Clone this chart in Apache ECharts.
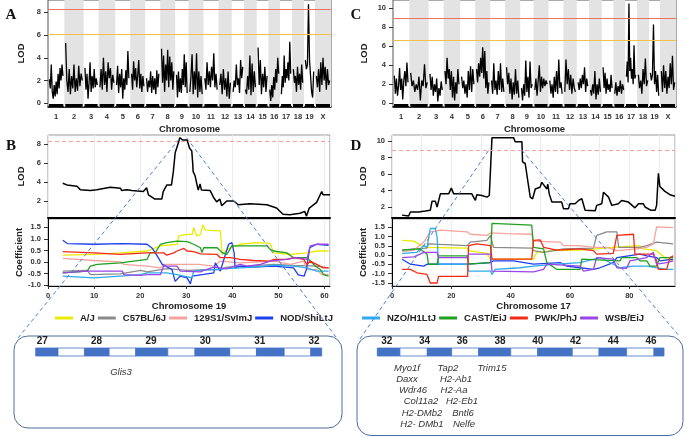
<!DOCTYPE html>
<html><head><meta charset="utf-8">
<script src="https://cdn.jsdelivr.net/npm/echarts@6/dist/echarts.min.js"></script>
<style>html,body{margin:0;padding:0;background:#fff}#c{width:685px;height:437px}</style>
</head><body><div id="c"></div>
<script>
// ---------------- DATA ----------------
const chromNames = ['1','2','3','4','5','6','7','8','9','10','11','12','13','14','15','16','17','18','19','X'];
const chromWidths = [49,58,45,50,45,45,45,45,40,45,45,40,37,38,35,35,36,36,33,48];

const lodA = [
 [2.1,1.3,3.4,1.0,0.4,1.6,0.6,1.9,0.8,2.6,1.3,3.1,2.0,3.4,2.4],
 [5.3,2.0,1.0,3.0,0.8,2.4,1.3,3.4,1.0,2.2,1.1,3.3,1.5,2.6,2.0],
 [3.1,1.2,2.6,0.4,1.8,3.6,1.0,2.4,1.3,3.0,1.4,2.2,1.6],
 [1.4,3.0,1.2,4.0,1.6,2.8,1.0,3.6,2.2,3.1,1.2,2.5,1.8],
 [1.6,3.3,0.9,2.6,1.4,3.0,0.4,2.2,1.2,2.9,1.6,4.6,2.2],
 [2.6,1.2,3.7,2.0,3.1,1.4,2.5,3.8,1.3,2.6,1.0,2.4,1.5],
 [2.2,1.0,2.0,1.4,2.8,0.9,2.4,1.2,2.2,0.8,2.9,1.4,2.6],
 [4.8,1.8,4.2,1.0,3.4,2.0,4.7,1.4,4.1,2.0,3.6,1.2,2.8],
 [2.5,0.5,2.8,1.0,2.2,0.9,3.0,1.6,4.3,1.4,3.6,0.9],
 [1.0,2.3,4.3,0.8,2.8,1.2,4.4,0.5,2.8,1.0,2.4,0.8],
 [2.2,1.2,3.6,1.6,2.8,1.4,3.2,2.0,4.4,1.4,2.6,1.2],
 [1.6,2.6,0.8,3.0,1.2,2.2,0.6,2.8,0.4,1.8],
 [1.0,2.0,1.4,3.4,1.6,2.2,0.9,3.8,2.2,3.2],
 [1.2,0.8,2.4,1.2,4.2,0.7,3.5,1.0,2.8,1.4],
 [4.9,1.6,3.8,0.8,2.6,1.4,3.2,1.0,2.4],
 [1.2,0.2,1.6,0.5,2.3,1.2,3.0,1.8,4.0,2.6],
 [0.8,2.4,1.4,4.2,1.8,3.0,2.2,3.6,2.0,5.4,2.6],
 [3.0,1.8,2.4,1.0,3.2,1.6,2.6,1.2,3.4,1.8],
 [3.8,3.0,3.4,8.7,3.8,2.4,1.0,0.5,2.8],
 [2.4,1.4,3.0,1.0,3.6,1.6,4.0,2.0,3.2,1.2,3.0,1.6,2.0]
];
const lodC = [
 [2.9,1.0,2.6,0.8,1.8,3.7,1.4,2.6,0.4,2.4,3.4,1.8,4.3,2.2],
 [3.2,1.8,2.4,1.2,2.0,1.4,2.8,0.3,2.4,1.8,4.1,1.6,2.2],
 [3.1,1.4,2.8,0.8,2.0,1.2,2.6,0.2,1.6,0.8,2.3,1.4],
 [3.4,2.0,4.8,2.6,3.6,1.4,3.4,0.6,2.8,0.3,2.2,1.0,3.6,2.0],
 [2.8,1.6,2.4,1.0,2.0,0.6,3.4,1.4,3.9,1.2,3.6,2.0],
 [3.6,2.2,4.2,2.8,4.8,3.2,5.9,2.6,5.5,1.6,3.4,1.0,2.2],
 [2.4,1.0,4.2,1.4,2.4,0.9,3.4,1.4,4.2,1.2,2.6,1.2],
 [3.8,2.0,3.2,1.0,2.6,0.4,2.2,0.9,3.6,1.0,2.4,0.6],
 [1.6,0.3,2.0,0.8,4.5,1.2,2.8,0.6,4.4,1.6,2.0],
 [1.4,2.6,0.8,2.4,4.0,1.2,2.8,1.6,2.6,1.8,2.4,2.0],
 [2.4,1.0,2.0,0.6,2.8,1.2,3.4,1.0,4.6,1.6,2.2,1.0],
 [1.2,4.6,2.0,3.6,1.4,3.0,1.0,2.6,1.6,1.2],
 [2.2,1.4,2.6,1.6,3.0,2.0,3.8,1.2,2.6,1.8],
 [1.4,0.8,2.0,1.0,3.4,0.4,2.0,0.9,2.6,1.2],
 [3.8,1.6,3.2,1.0,2.6,1.4,2.0,1.2,3.0,1.6],
 [1.0,2.2,0.8,1.8,1.2,2.4,1.0,2.0,1.4],
 [2.8,4.4,2.2,10.5,3.4,4.8,2.6,3.6,2.0,6.1,2.6,3.0],
 [3.0,1.6,2.4,1.0,3.6,2.0,4.7,1.8,2.4],
 [3.2,2.4,3.0,8.3,2.0,3.4,1.2,3.0,0.8],
 [3.4,1.2,4.0,1.6,3.4,1.0,2.8,1.6,4.2,2.0,5.0,1.4,2.2]
];
const thresholdsA = [8.25, 6.05];
const thresholdsC = [8.95, 6.65];

const lodB = [[3.2,3.87],[4.1,3.7],[4.5,3.55],[6.3,3.55],[7.0,3.2],[9.2,3.1],[10.6,3.2],[13.5,3.45],[15.7,3.35],[16.0,3.1],[17.1,3.2],[18.2,3.1],[20.7,3.0],[21.4,3.4],[21.8,2.65],[23.2,2.2],[24.7,2.2],[25.0,3.0],[25.8,3.7],[26.8,3.7],[27.2,5.1],[27.6,7.1],[28.3,8.15],[28.6,8.7],[29.2,8.45],[30.2,8.45],[30.7,7.6],[31.2,7.3],[31.4,6.0],[31.5,5.1],[31.9,4.7],[32.3,3.8],[32.6,3.15],[33.0,3.8],[33.3,3.15],[35.2,3.1],[35.9,2.4],[36.6,1.9],[37.3,2.2],[37.7,1.5],[38.8,2.0],[40.3,2.0],[41.3,1.6],[43.8,1.7],[47.5,1.6],[49.6,1.25],[51.0,0.6],[52.5,0.55],[54.7,0.7],[55.7,0.9],[56.1,0.4],[56.7,1.25],[58.3,1.85],[59.4,3.0],[59.7,2.65],[61.2,2.65]];
const thresholdB = 8.27;
const lodD = [[3.4,1.01],[5.6,0.9],[6.2,1.4],[9.0,1.4],[11.2,1.5],[12.9,1.6],[13.5,2.7],[14.6,2.7],[15.2,2.0],[16.3,3.6],[19.1,3.6],[20.0,4.3],[20.8,3.6],[26.9,3.6],[28.1,2.8],[28.6,3.5],[30.3,3.4],[32.0,3.2],[32.8,3.4],[33.7,10.45],[41.0,10.45],[41.5,9.95],[43.8,9.95],[44.0,7.5],[44.9,7.3],[46.6,3.2],[47.4,3.0],[48.3,4.2],[49.9,4.4],[50.5,5.0],[52.2,4.2],[52.5,4.8],[53.0,3.6],[53.9,2.6],[57.2,2.6],[57.8,1.8],[59.5,1.8],[60.0,2.4],[61.7,2.4],[62.9,2.8],[64.0,3.0],[65.1,1.6],[68.5,1.55],[69.0,2.2],[70.7,2.4],[71.3,3.8],[73.0,3.2],[74.1,2.2],[76.3,2.4],[77.4,2.8],[79.7,2.6],[81.9,1.9],[83.1,2.4],[84.7,2.4],[85.3,2.0],[87.3,1.6],[88.7,1.6],[89.2,2.2],[89.8,6.1],[90.3,4.5],[92.0,3.9],[93.7,3.5],[95.4,3.3]];
const thresholdD = 8.94;

const strainNames = ['A/J','C57BL/6J','129S1/SvImJ','NOD/ShiLtJ','NZO/H1LtJ','CAST/EiJ','PWK/PhJ','WSB/EiJ'];

// Chromosome 19 coefficients (one list per strain, in strainNames order)
const coefB = [
 [[3.2,0.3],[10,0.33],[15.7,0.4],[21.5,0.48],[24.4,0.7],[28,0.77],[28.4,1.13],[30.2,1.2],[31.3,1.2],[31.6,1.49],[32.3,1.13],[33.1,1.2],[33.6,1.6],[34.2,1.38],[37.4,1.35],[37.8,0.33],[38.8,0.55],[41.7,0.77],[45.3,0.84],[48.2,0.81],[49,0.4],[52.6,0.33],[56.2,0.4],[58.3,0.48],[60.9,0.48]],
 [[3.2,-0.39],[8.5,-0.36],[9.2,-0.54],[15.7,-0.51],[20.1,-0.36],[21.5,-0.42],[25.8,-0.28],[30.2,-0.36],[34.5,-0.33],[37.4,-0.32],[38.8,-0.22],[43.2,-0.17],[49,-0.1],[53.3,-0.14],[58.3,-0.17],[60.9,-0.25]],
 [[3.2,0.16],[10,0.07],[15.7,0.01],[16.5,-0.1],[21.5,-0.17],[24.4,-0.25],[25.1,-0.1],[32.6,-0.1],[36,-0.17],[37.4,0.04],[41.7,-0.03],[49,0.04],[52.6,-0.1],[55.5,0.04],[56.2,-0.32],[58.3,-0.32],[59.4,-0.54],[60.9,-0.54]],
 [[3.2,0.94],[4.2,0.8],[10,0.77],[16.1,0.8],[21.5,0.77],[22.6,0.6],[23.3,0.4],[24.8,-0.1],[26.9,-0.32],[27.6,-0.83],[28.7,-0.6],[30.2,-0.68],[30.9,-0.94],[31.3,-0.6],[33.8,-0.53],[36,-0.46],[36.3,-0.03],[37.4,-0.39],[38.5,0.33],[39.2,0.77],[39.9,0.84],[40.4,0.4],[40.6,-0.25],[41.7,-0.17],[44.6,-0.22],[49,-0.17],[53.3,-0.25],[54.3,-0.55],[55.6,-0.6],[56.1,-0.3],[56.8,0.62],[58.3,0.77],[60.9,0.72]],
 [[3.2,-0.6],[10,-0.68],[15.7,-0.6],[20.1,-0.54],[21.5,-0.46],[25.8,-0.46],[28,-0.54],[29.5,-0.6],[31.3,-0.68],[31.6,-0.39],[34.5,-0.32],[36,-0.32],[38.8,-0.28],[44.6,-0.22],[49,-0.13],[53.3,-0.17],[56.2,-0.25],[58.3,-0.39],[60.9,-0.39]],
 [[3.2,-0.46],[8.5,-0.39],[9.2,-0.17],[10.7,-0.1],[15.7,-0.03],[16.1,0.04],[21.5,0.12],[22.2,0.41],[23.3,0.41],[24.4,0.77],[25.8,0.84],[28,0.91],[30.2,0.88],[31.6,0.77],[33.1,0.62],[33.4,0.41],[33.8,0.62],[36.7,0.62],[37.8,0.41],[38.8,0.33],[39.9,0.7],[47.5,0.7],[48.2,0.55],[49,0.48],[51.8,0.4],[53.3,0.19],[56.2,0.19],[58,-0.17],[59.1,-0.32],[59.8,-0.54],[60.9,-0.6]],
 [[3.2,0.45],[10,0.4],[15.7,0.33],[21.5,0.4],[25.1,0.4],[25.8,0.3],[27.3,0.4],[28,0.48],[29.5,0.59],[30.2,0.48],[31.6,0.45],[33.1,0.36],[36.7,0.33],[37.4,0.19],[39.6,0.19],[41.7,0.12],[44.6,0.07],[48.2,0.04],[49,0.12],[51.8,0.12],[53.3,0.19],[55.5,0.12],[56.2,-0.1],[56.9,0.04],[58.3,-0.1],[59.8,-0.25],[60.9,-0.25]],
 [[3.2,-0.46],[8.5,-0.39],[16.1,-0.39],[16.5,-0.54],[20.1,-0.57],[21.5,-0.54],[24.4,-0.54],[25.1,-0.17],[28,-0.17],[28.7,-0.39],[33.1,-0.42],[33.8,-0.36],[36,-0.22],[38.8,-0.28],[41.7,-0.1],[43.2,-0.17],[46.1,-0.1],[48.2,0.04],[51.8,0.12],[54,0.19],[56.2,0.12],[56.9,0.7],[58.3,0.77],[60.9,0.77]]
];
// Chromosome 17 coefficients
const coefD = [
 [[3.4,0.79],[7.3,0.75],[9.0,0.6],[11.2,0.42],[25.3,0.38],[25.8,0.24],[32.0,0.09],[33.2,-0.22],[47.7,-0.22],[48.8,0.15],[54.4,0.24],[63.4,0.27],[74.6,0.42],[83.6,0.51],[84.7,0.33],[89.2,0.24],[92.6,-0.22],[94.8,-0.31]],
 [[3.4,0.27],[7.3,0.33],[11.8,0.38],[12.3,0.6],[25.3,0.51],[26.4,0.7],[32.0,0.79],[33.2,1.06],[34.2,0.42],[47.1,0.38],[47.7,0.24],[51.1,0.15],[57.8,0.33],[67.9,0.38],[69.0,1.06],[72.4,1.25],[75.8,1.25],[76.4,0.42],[83.6,0.42],[85.9,0.51],[89.2,0.7],[94.8,0.6]],
 [[3.4,0.2],[7.3,0.25],[10.7,0.7],[12.9,1.25],[15.2,1.3],[16.3,1.34],[25.3,1.25],[26.4,1.12],[32.0,1.06],[33.2,1.19],[38.7,1.15],[47.1,1.12],[47.7,0.75],[56.7,0.7],[57.8,0.51],[63.4,0.51],[67.9,0.42],[72.4,0.42],[75.8,0.24],[82.5,0.33],[85.9,0.42],[88.1,0.6],[89.2,1.52],[94.8,1.48]],
 [[3.4,-0.22],[6.2,-0.49],[10.7,-0.59],[11.8,-0.49],[25.3,-0.49],[25.8,-0.46],[33.2,-0.4],[34.2,-0.31],[41.0,-0.31],[47.7,-0.49],[56.7,-0.4],[58.9,-0.59],[63.4,-0.68],[67.9,-0.77],[70.1,-0.68],[74.6,-0.4],[75.8,-0.13],[83.6,0.05],[85.9,-0.04],[89.2,-0.13],[90.3,-0.31],[94.8,-0.22]],
 [[3.4,0.09],[8.4,0.15],[10.7,0.51],[11.8,0.42],[12.9,1.43],[14.6,1.43],[15.2,0.97],[15.7,-0.49],[25.3,-0.49],[25.8,-0.86],[33.2,-0.86],[33.7,-1.04],[34.8,-0.77],[43.2,-0.68],[47.7,-0.59],[55.6,-0.49],[63.4,-0.4],[70.1,-0.13],[74.6,-0.49],[76.9,-0.68],[81.4,-0.59],[85.9,-0.59],[92.6,-0.77],[94.8,-0.77]],
 [[3.4,0.27],[9.5,0.33],[11.8,0.05],[12.3,-0.49],[15.2,-0.49],[15.7,-0.04],[25.3,-0.04],[25.8,-0.49],[33.2,-0.4],[33.7,1.7],[47.1,1.61],[47.7,0.42],[51.1,0.33],[52.2,-0.4],[55.6,-0.77],[63.4,-0.77],[64.0,-0.22],[76.9,-0.31],[77.4,-0.13],[82.5,-0.13],[83.6,-0.31],[85.9,-0.31],[87.0,-0.59],[89.2,-0.59],[90.3,-0.13],[94.8,-0.13]],
 [[3.4,-0.77],[6.2,-0.77],[8.4,-0.95],[11.8,-1.04],[12.9,-1.5],[15.2,-1.5],[15.7,-1.14],[25.5,-1.14],[25.8,0.51],[28.6,0.6],[33.2,0.51],[33.7,-0.22],[47.1,-0.22],[47.7,0.79],[49.9,0.82],[51.1,0.42],[55.6,0.27],[63.4,0.33],[67.9,0.24],[69.0,0.05],[74.6,0.09],[75.8,1.06],[81.4,1.12],[81.9,0.05],[88.1,0.05],[89.2,-0.31],[89.8,-0.77],[92.6,-0.77],[93.7,-0.13],[94.8,-0.04]],
 [[3.4,-0.13],[7.3,-0.09],[9.5,0.05],[10.7,0.15],[15.2,0.15],[15.7,-0.13],[25.3,-0.13],[25.8,0.05],[33.2,0.05],[33.7,-0.86],[47.7,-0.9],[51.1,-0.77],[52.2,-0.49],[63.4,-0.59],[64.6,-0.86],[67.9,-0.77],[69.0,-0.13],[74.6,-0.22],[75.8,-0.68],[79.1,-0.71],[80.2,-0.31],[85.9,-0.13],[88.1,0.15],[89.2,-0.49],[92.6,-0.4],[94.8,-0.31]]
];

// Mb rulers under the scans
const rulerLeftTicks = [27,28,29,30,31,32];
const rulerLeftBounds = [26.88,27.29,27.78,28.23,28.72,29.31,29.81,30.45,30.94,31.45,31.94,32.14];
const rulerRightTicks = [32,34,36,38,40,42,44,46];
const rulerRightBounds = [31.5,32.7,34.15,35.44,36.87,38.57,40.0,41.83,43.25,44.71,46.16,46.69];
const genesB = ['Glis3'];
const genesD = ['Myo1f','Daxx','Wdr46','Col11a2','H2-DMb2','H2- DMb1','Tap2','H2-Ab1','H2-Aa','H2-Eb1','Bntl6','Nelfe','Trim15'];

// ---------------- STYLE / BUILD ----------------
const strainColors = ['#eaea00','#8a8a8a','#f4a39c','#1c3ff0','#2eaaf0','#1fa01f','#f22a14','#9b45e6'];
const FONT = 'Liberation Sans, Arial, sans-serif';
const starts = []; let acc = 0;
chromWidths.forEach(w => { starts.push(acc); acc += w; });
const genomeTotal = acc;
const centers = starts.map((s, i) => s + chromWidths[i] / 2);

function traceData(vals) {
  const out = []; const pad = 4;
  vals.forEach((arr, k) => {
    const s = starts[k], w = chromWidths[k];
    arr.forEach((v, i) => out.push([s + pad + i * (w - 2 * pad) / (arr.length - 1), v]));
    out.push([s + w, '-']);
  });
  return out;
}
function rugData(y) {
  return starts.map((s, k) => ({ coords: [[s + 3, y], [s + chromWidths[k] - 3, y]] }));
}
function bands() {
  const out = [];
  starts.forEach((s, k) => { if (k % 2 === 1) out.push([{ xAxis: s }, { xAxis: s + chromWidths[k] }]); });
  return out;
}
function chromFmt(v) {
  for (let i = 0; i < centers.length; i++) if (Math.abs(centers[i] - v) < 0.01) return chromNames[i];
  return '';
}
const tickLbl = { fontSize: 7.5, fontWeight: 'bold', color: '#333', fontFamily: FONT };
const nameSty = { fontSize: 9.5, fontWeight: 'bold', color: '#222', fontFamily: FONT };

function gXAxis(grid, min, max, extra) {
  return Object.assign({ type: 'value', gridIndex: grid, min: min, max: max,
    axisLine: { show: false }, axisTick: { show: false }, axisLabel: { show: false }, splitLine: { show: false } }, extra || {});
}
function gYAxis(grid, min, max, ticks, name, gap, fmt, extra) {
  return Object.assign({ type: 'value', gridIndex: grid, min: min, max: max,
    name: name, nameLocation: 'middle', nameGap: gap, nameTextStyle: nameSty,
    axisLine: { show: false },
    axisTick: { show: true, length: 4, customValues: ticks, lineStyle: { color: '#333' } },
    axisLabel: { show: true, customValues: ticks, margin: 7, formatter: fmt, ...tickLbl },
    splitLine: { show: false } }, extra || {});
}
const fmtInt = v => String(Math.round(v));
const fmtDec = v => v.toFixed(1);

const series = [];
// A and C genome scans
[[lodA, thresholdsA, 0, -0.15], [lodC, thresholdsC, 1, -0.18]].forEach(([vals, thr, gi, rugY]) => {
  series.push({ type: 'line', xAxisIndex: gi, yAxisIndex: gi, data: traceData(vals), symbol: 'none',
    lineStyle: { color: '#000', width: 1.3 }, silent: true, z: 3,
    markArea: { silent: true, itemStyle: { color: '#e3e3e3' }, data: bands() },
    markLine: { silent: true, symbol: 'none', label: { show: false }, animation: false,
      data: [{ yAxis: thr[0], lineStyle: { color: '#f2705e', width: 1.1, type: 'solid' } },
             { yAxis: thr[1], lineStyle: { color: '#f0c24a', width: 1.1, type: 'solid' } }] } });
  series.push({ type: 'lines', coordinateSystem: 'cartesian2d', xAxisIndex: gi, yAxisIndex: gi,
    data: rugData(rugY), lineStyle: { color: '#000', width: 3, opacity: 1 }, silent: true, z: 4 });
});
// B and D LOD
[[lodB, thresholdB, 2], [lodD, thresholdD, 4]].forEach(([d, thr, gi]) => {
  series.push({ type: 'line', xAxisIndex: gi, yAxisIndex: gi, data: d, symbol: 'none',
    lineStyle: { color: '#000', width: 1.5 }, silent: true,
    markLine: { silent: true, symbol: 'none', label: { show: false },
      data: [{ yAxis: thr, lineStyle: { color: '#ff9c9c', width: 1, type: [4, 3] } }] } });
});
// coefficients
[[coefB, 3], [coefD, 5]].forEach(([sets, gi]) => {
  sets.forEach((d, i) => series.push({ type: 'line', name: strainNames[i], xAxisIndex: gi, yAxisIndex: gi,
    data: d, symbol: 'none', color: strainColors[i], lineStyle: { color: strainColors[i], width: 1.3 }, silent: true }));
});
// rulers
function rulerData(b) { const out = []; for (let i = 0; i < b.length - 1; i++) out.push([b[i], b[i + 1], i % 2 === 0 ? 1 : 0]); return out; }
function rulerRender(params, api) {
  const p0 = api.coord([api.value(0), 1]), p1 = api.coord([api.value(1), 0]);
  return { type: 'rect', shape: { x: p0[0], y: p0[1], width: p1[0] - p0[0], height: p1[1] - p0[1] },
    style: { fill: api.value(2) ? '#4472c4' : '#ffffff', stroke: '#4472c4', lineWidth: 0.8 } };
}
series.push({ type: 'custom', xAxisIndex: 6, yAxisIndex: 6, data: rulerData(rulerLeftBounds), renderItem: rulerRender, encode: { x: [0, 1] }, silent: true });
series.push({ type: 'custom', xAxisIndex: 7, yAxisIndex: 7, data: rulerData(rulerRightBounds), renderItem: rulerRender, encode: { x: [0, 1] }, silent: true });

const grids = [
  { left: 48, top: 0, width: 283, height: 107, show: true, borderColor: '#555', borderWidth: 1 },
  { left: 393, top: 0, width: 283, height: 107, show: true, borderColor: '#555', borderWidth: 1 },
  { left: 48, top: 135, width: 282, height: 83, show: true, borderColor: '#999', borderWidth: 1 },
  { left: 48, top: 219, width: 282, height: 67, show: true, borderColor: '#999', borderWidth: 1 },
  { left: 392, top: 135, width: 283, height: 83, show: true, borderColor: '#999', borderWidth: 1 },
  { left: 392, top: 219, width: 283, height: 67, show: true, borderColor: '#999', borderWidth: 1 },
  { left: 35.7, top: 348, width: 286, height: 8 },
  { left: 377.3, top: 348, width: 286.7, height: 8 }
];
const faint = { show: true, lineStyle: { color: '#ececec', width: 1 } };
const chromAxis = gi => gXAxis(gi, 0, genomeTotal, {
  axisLine: { show: true, onZero: false, lineStyle: { color: '#000', width: 1.5 } },
  axisLabel: { show: true, customValues: centers, formatter: chromFmt, margin: 6, ...tickLbl },
  name: 'Chromosome', nameLocation: 'middle', nameGap: 17, nameTextStyle: nameSty });
const xAxes = [
  chromAxis(0), chromAxis(1),
  gXAxis(2, 0, 61.2, { interval: 10, splitLine: faint, axisLine: { show: true, onZero: false, lineStyle: { color: '#000', width: 2 } } }),
  gXAxis(3, 0, 61.2, { interval: 10, splitLine: faint,
    axisLine: { show: true, onZero: false, lineStyle: { color: '#000', width: 1 } },
    axisTick: { show: true, length: 3, lineStyle: { color: '#333' } },
    axisLabel: { show: true, margin: 6, formatter: fmtInt, ...tickLbl },
    name: 'Chromosome 19', nameLocation: 'middle', nameGap: 14, nameTextStyle: nameSty }),
  gXAxis(4, 0, 95.4, { interval: 10, splitLine: faint, axisLine: { show: true, onZero: false, lineStyle: { color: '#000', width: 2 } } }),
  gXAxis(5, 0, 95.4, { interval: 10, splitLine: faint,
    axisLine: { show: true, onZero: false, lineStyle: { color: '#000', width: 1 } },
    axisTick: { show: true, length: 3, customValues: [0, 20, 40, 60, 80], lineStyle: { color: '#333' } },
    axisLabel: { show: true, margin: 6, customValues: [0, 20, 40, 60, 80], formatter: fmtInt, ...tickLbl },
    name: 'Chromosome 17', nameLocation: 'middle', nameGap: 14, nameTextStyle: nameSty }),
  gXAxis(6, rulerLeftBounds[0], rulerLeftBounds[rulerLeftBounds.length - 1], { position: 'top',
    axisLabel: { show: true, customValues: rulerLeftTicks, formatter: fmtInt, margin: 2, fontSize: 10, fontWeight: 'bold', color: '#222', fontFamily: FONT } }),
  gXAxis(7, rulerRightBounds[0], rulerRightBounds[rulerRightBounds.length - 1], { position: 'top',
    axisLabel: { show: true, customValues: rulerRightTicks, formatter: fmtInt, margin: 2, fontSize: 10, fontWeight: 'bold', color: '#222', fontFamily: FONT } })
];
const yAxes = [
  gYAxis(0, -0.33, 9.08, [0, 2, 4, 6, 8], 'LOD', 22, fmtInt),
  gYAxis(1, -0.39, 10.87, [0, 2, 4, 6, 8, 10], 'LOD', 24, fmtInt),
  gYAxis(2, 0.2, 8.98, [2, 4, 6, 8], 'LOD', 22, fmtInt),
  gYAxis(3, -1.03, 1.86, [-1, -0.5, 0, 0.5, 1, 1.5], 'Coefficient', 22, fmtDec,
    { axisLine: { show: true, lineStyle: { color: '#000', width: 1 } } }),
  gYAxis(4, 0.66, 10.77, [2, 4, 6, 8, 10], 'LOD', 24, fmtInt),
  gYAxis(5, -1.66, 1.94, [-1.5, -1, -0.5, 0, 0.5, 1, 1.5], 'Coefficient', 22, fmtDec,
    { axisLine: { show: true, lineStyle: { color: '#000', width: 1 } } }),
  { type: 'value', gridIndex: 6, min: 0, max: 1, show: false },
  { type: 'value', gridIndex: 7, min: 0, max: 1, show: false }
];

const legendBase = { icon: 'rect', itemWidth: 18, itemHeight: 3, itemGap: 3, top: 313, padding: 0,
  selectedMode: false, textStyle: { fontSize: 9.5, fontWeight: 'bold', color: '#222', fontFamily: FONT, padding: [0, 0, 0, 2] } };

const geneTxt = (t, x, y) => ({ type: 'text', x: x, y: y, style: { text: t, align: 'center', verticalAlign: 'middle',
  font: 'italic 9.5px ' + FONT, fill: '#333' }, silent: true });
const geneXY = [[407,368],[407,379],[413,390],[421,401],[422,413],[422,424],[448,368],[456,379],[454,390],[462,401],[463,413],[464,424],[492,368]];
const letter = (t, x, y) => ({ type: 'text', x: x, y: y, style: { text: t, align: 'center', verticalAlign: 'middle',
  font: 'bold 15px Liberation Serif, Times New Roman, serif', fill: '#111' }, silent: true });
const dash = (x1, y1, x2, y2) => ({ type: 'line', shape: { x1, y1, x2, y2 }, z: 100,
  style: { stroke: '#4a7fd4', lineWidth: 1, lineDash: [4, 3] }, silent: true });

const graphic = [
  { type: 'rect', shape: { x: 14, y: 336, width: 328, height: 92, r: 14 }, style: { fill: 'none', stroke: '#4d6e9e', lineWidth: 1 }, silent: true },
  { type: 'rect', shape: { x: 357, y: 336, width: 326, height: 99.5, r: 14 }, style: { fill: 'none', stroke: '#4d6e9e', lineWidth: 1 }, silent: true },
  dash(18, 338, 180, 138), dash(186.7, 138, 336.7, 338),
  dash(360, 339, 490, 148.3), dash(521.7, 150, 678.3, 335),
  geneTxt(genesB[0], 121, 372),
  ...genesD.map((g, i) => geneTxt(g, geneXY[i][0], geneXY[i][1])),
  letter('A', 11, 15), letter('B', 11, 146), letter('C', 356, 15), letter('D', 356, 146)
];

const chart = echarts.init(document.getElementById('c'), null, { renderer: 'canvas' });
chart.setOption({
  animation: false,
  backgroundColor: '#fff',
  grid: grids, xAxis: xAxes, yAxis: yAxes,
  legend: [
    Object.assign({}, legendBase, { left: 55, data: strainNames.slice(0, 4) }),
    Object.assign({}, legendBase, { left: 362, data: strainNames.slice(4) })
  ],
  series: series,
  graphic: graphic
});
</script></body></html>
